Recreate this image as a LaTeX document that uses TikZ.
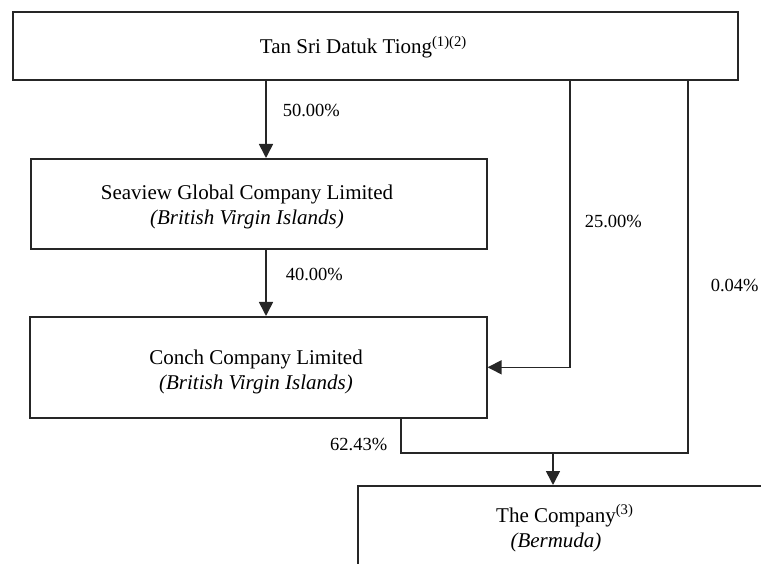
\documentclass[tikz,border=0pt]{standalone}
\usepackage{fontspec}
\setmainfont{Liberation Serif}
\usetikzlibrary{arrows.meta, positioning}
\tikzset{
  entity/.style={
    draw=black!85,
    rectangle,
    line width=1.6pt,
    anchor=north west,
    inner sep=0pt
  },
  entitytext/.style={
    anchor=base,
    align=center,
    inner sep=0pt,
    font=\fontsize{21}{25}\selectfont
  },
  link/.style={
    draw=black!85,
    line width=1.6pt
  },
  arrow/.style={
    link,
    -{Triangle[width=14pt,length=14pt]}
  },
  pct/.style={
    inner sep=0pt,
    font=\fontsize{18.5}{22}\selectfont
  }
}
\newcommand{\fn}[1]{\rlap{\textsuperscript{(#1)}}}

\begin{document}
\begin{tikzpicture}[x=1pt, y=-1pt]
  \clip (0,0) rectangle (761,564);

  % boxes
  \node[entity, minimum width=725pt, minimum height=68pt] (tiong) at (12,11) {};
  \node[entity, minimum width=456pt, minimum height=90pt] (seaview) at (30,158) {};
  \node[entity, minimum width=457pt, minimum height=101pt] (conch) at (29,316) {};
  \node[entity, minimum width=500pt, minimum height=150pt] (company) at (357,485) {};

  % texts (anchor base = last line)
  \node[entitytext] (tiongtxt) at (346,54) {Tan Sri Datuk Tiong\fn{1)(2}};
  \node[entitytext] (seaviewtxt) at (247,225) {Seaview Global Company Limited\\\textit{(British Virgin Islands)}};
  \node[entitytext] (conchtxt) at (256,389) {Conch Company Limited\\\textit{(British Virgin Islands)}};
  \node[entitytext] (companytxt) at (556,547) {The Company\fn{3}\\\textit{(Bermuda)}};

  % helper points
  \coordinate (colA) at (266,0);
  \coordinate (colB) at (570,0);
  \coordinate (colC) at (688,0);
  \coordinate (colD) at (401,0);
  \coordinate (join) at (553,453);

  % holdings
  \draw[arrow] (colA |- tiong.south) -- node[pct, anchor=west, pos=.38, xshift=16pt] (p50) {50.00\%} (colA |- seaview.north);
  \draw[arrow] (colA |- seaview.south) -- node[pct, anchor=west, pos=.38, xshift=19pt] (p40) {40.00\%} (colA |- conch.north);
  \draw[arrow] (colB |- tiong.south) -- node[pct, anchor=west, pos=.49, xshift=14pt] (p25) {25.00\%} (colB |- conch.east) -- (conch.east);
  \draw[link] (colD |- conch.south) -- node[pct, anchor=east, pos=.75, xshift=-13pt] (p62) {62.43\%} (colD |- join) -- (colC |- join)
    -- node[pct, anchor=west, pos=.45, xshift=22pt] (p004) {0.04\%} (colC |- tiong.south);
  \draw[arrow] (join) -- (join |- company.north);
\end{tikzpicture}
\end{document}
